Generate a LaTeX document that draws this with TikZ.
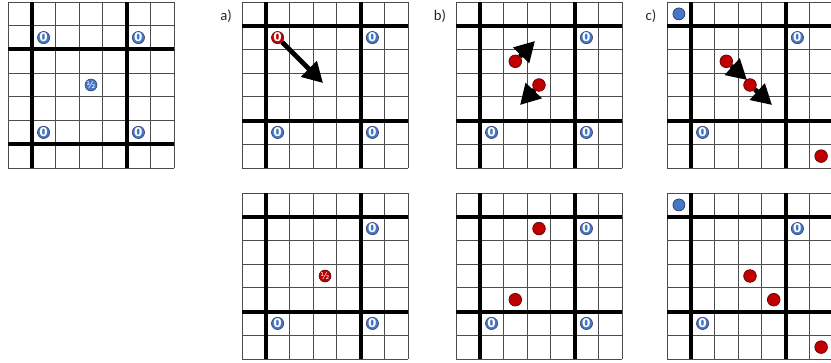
\documentclass[tikz,border=0pt]{standalone}
\usepackage{fontspec}
\usepackage{tikz}
\usetikzlibrary{arrows.meta, positioning}
\newfontfamily\labelfont{Carlito}
\newfontfamily\markfont{DejaVu Sans}
\definecolor{siteblue}{RGB}{72,118,198}
\definecolor{sitered}{RGB}{192,0,0}

\begin{document}
\begin{tikzpicture}[x=0.75pt, y=-0.75pt,
    thinline/.style={line width=0.6pt, black!70},
    heavy/.style={line width=2.9pt, black},
    zero/.style={circle, fill=siteblue, draw=siteblue!50!black, line width=0.4pt,
        inner sep=0pt, minimum size=9pt, text=white,
        font=\markfont\bfseries\fontsize{9}{9}\selectfont},
    redzero/.style={zero, fill=sitered, draw=sitered!50!black},
    atom/.style={circle, fill=sitered, draw=sitered!50!black, line width=0.5pt,
        inner sep=0pt, minimum size=9.5pt},
    blueatom/.style={atom, fill=siteblue, draw=siteblue!50!black, minimum size=9pt},
    hop/.style={line width=3.6pt, -{Triangle[length=15pt, width=16pt]}},
    tag/.style={font=\labelfont\fontsize{11}{12}\selectfont, text=black!85}]
\useasboundingbox (0,0) rectangle (831,362);

% lattices
\foreach \gx/\gy/\hs in {8/2/2, 242/2/1, 456/2/1, 667/2/1, 242/193/1, 456/193/1, 667/193/1}{
    \begin{scope}[shift={(\gx,\gy)}, x=17.785pt, y=-17.785pt]
        \foreach \k in {0,...,7}{
            \draw[thinline] (\k,0) -- (\k,7);
            \draw[thinline] (0,\k) -- (7,\k);
        }
        \draw[heavy] (1,0) -- (1,7) (5,0) -- (5,7);
        \draw[heavy] (0,\hs) -- (7,\hs) (0,\hs+4) -- (7,\hs+4);
    \end{scope}
}

% labels
\node[tag] (la) at (226,16) {a)};
\node[tag] (lb) at (440,16) {b)};
\node[tag] (lc) at (651,16) {c)};

% left lattice
\node[zero] (s1) at (43.6,37.6) {0};
\node[zero] (s2) at (138.4,37.6) {0};
\node[zero] (s3) at (43.6,132.4) {0};
\node[zero] (s4) at (138.4,132.4) {0};
\node[zero, font=\markfont\fontsize{7}{7}\selectfont] (s5) at (91.0,85.0) {½};

% a) top
\node[redzero] (a1) at (277.6,37.6) {0};
\node[zero] (a2) at (372.4,37.6) {0};
\node[zero] (a3) at (277.6,132.4) {0};
\node[zero] (a4) at (372.4,132.4) {0};
\coordinate (ta1) at (323,83);
\draw[hop] (a1) -- (ta1);

% a) bottom
\node[zero] (a5) at (372.4,228.6) {0};
\node[redzero, font=\markfont\fontsize{7}{7}\selectfont] (a6) at (325.0,276.0) {½};
\node[zero] (a7) at (277.6,323.4) {0};
\node[zero] (a8) at (372.4,323.4) {0};

% b) top
\node[zero] (b1) at (586.4,37.6) {0};
\node[zero] (b2) at (491.6,132.4) {0};
\node[zero] (b3) at (586.4,132.4) {0};
\node[atom] (b4) at (515.3,61.3) {};
\node[atom] (b5) at (539.0,85.0) {};
\coordinate (tb4) at (535,41);
\coordinate (tb5) at (520,105);
\draw[hop] (b4) -- (tb4);
\draw[hop] (b5) -- (tb5);

% b) bottom
\node[zero] (b6) at (586.4,228.6) {0};
\node[zero] (b7) at (491.6,323.4) {0};
\node[zero] (b8) at (586.4,323.4) {0};
\node[atom] (b9) at (539.0,228.6) {};
\node[atom] (b10) at (515.3,299.7) {};

% c) top
\node[blueatom] (c1) at (678.9,13.9) {};
\node[zero] (c2) at (797.4,37.6) {0};
\node[zero] (c3) at (702.6,132.4) {0};
\node[atom] (c4) at (726.3,61.3) {};
\node[atom] (c5) at (750.0,85.0) {};
\node[atom] (c6) at (821.1,156.1) {};
\coordinate (tc4) at (747,80);
\coordinate (tc5) at (772,105);
\draw[hop] (c4) -- (tc4);
\draw[hop] (c5) -- (tc5);

% c) bottom
\node[blueatom] (c7) at (678.9,204.9) {};
\node[zero] (c8) at (797.4,228.6) {0};
\node[zero] (c9) at (702.6,323.4) {0};
\node[atom] (c10) at (750.0,276.0) {};
\node[atom] (c11) at (773.7,299.7) {};
\node[atom] (c12) at (821.1,347.1) {};
\end{tikzpicture}
\end{document}
